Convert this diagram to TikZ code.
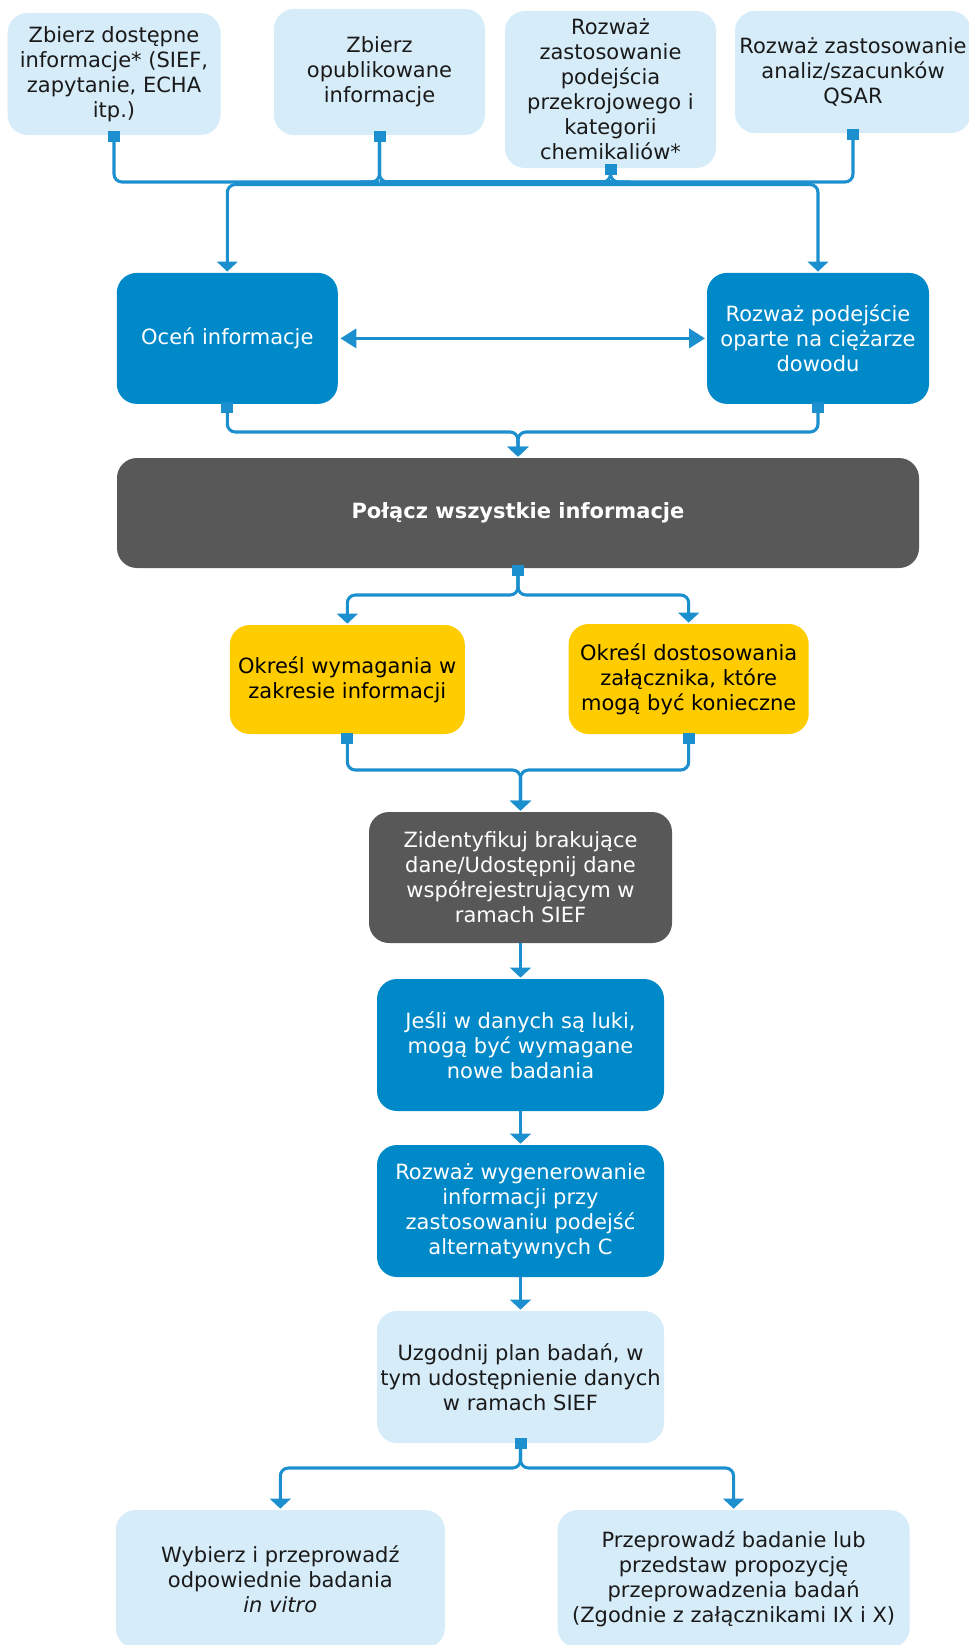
\documentclass[tikz,border=0pt]{standalone}
\usepackage{fontspec}
\setmainfont{DejaVu Sans}
\usetikzlibrary{arrows.meta,calc}
\definecolor{lightfill}{RGB}{214,236,249}
\definecolor{bluefill}{RGB}{0,137,201}
\definecolor{grayfill}{RGB}{88,88,88}
\definecolor{yellowfill}{RGB}{255,204,0}
\definecolor{connblue}{RGB}{28,144,207}
\definecolor{txtdark}{RGB}{26,26,26}
\begin{document}
\begin{tikzpicture}[x=0.75pt,y=-0.75pt,
  every node/.style={inner sep=0pt, outer sep=0pt, align=center},
  card/.style 2 args={rounded corners=15pt, minimum width=#1*0.75pt, minimum height=#2*0.75pt,
    font=\fontsize{15.75pt}{18.75pt}\selectfont},
  light/.style={fill=lightfill, text=txtdark},
  blue/.style={fill=bluefill, text=white},
  gray/.style={fill=grayfill, text=white},
  yellow/.style={fill=yellowfill, text=black},
  sq/.style={fill=connblue, minimum width=9pt, minimum height=8.25pt, anchor=north},
  conn/.style={draw=connblue, line width=2.3pt, rounded corners=6pt},
  flow/.style={conn, -{Triangle[width=15.5pt,length=7.5pt]}},
  flowboth/.style={conn, {Triangle[width=15.5pt,length=7.5pt]}-{Triangle[width=15.5pt,length=7.5pt]}},
  flowh/.style={conn, {Triangle[width=14.5pt,length=12pt]}-{Triangle[width=14.5pt,length=12pt]}}
]
\useasboundingbox (0,0) rectangle (969,1645);
\clip (0,0) rectangle (969,1645);

% top row
\node[card={213}{122}, light] (b1) at (114,74) {Zbierz dostępne\\informacje* (SIEF,\\zapytanie, ECHA\\itp.)};
\node[card={211}{126}, light] (b2) at (379.5,72) {Zbierz\\opublikowane\\informacje};
\node[card={211}{157}, light] (b3) at (610.5,89.5) {Rozważ\\zastosowanie\\podejścia\\przekrojowego i\\kategorii\\chemikaliów*};
\node[card={236}{122}, light] (b4) at (853,72) {Rozważ zastosowanie\\analiz/szacunków\\QSAR};

% evaluation row
\node[card={221}{131}, blue] (oc) at (227.3,338.4) {Oceń informacje};
\node[card={222}{131}, blue] (wd) at (818,338.4) {Rozważ podejście\\oparte na ciężarze\\dowodu};

% combine
\node[card={802}{110}, gray] (pol) at (518,513) {\textbf{Połącz wszystkie informacje}};

% yellow
\node[card={235}{109}, yellow] (y1) at (347.3,679.5) {Określ wymagania w\\zakresie informacji};
\node[card={240}{110}, yellow] (y2) at (688.7,679) {Określ dostosowania\\załącznika, które\\mogą być konieczne};

% chain
\node[card={303}{131}, gray] (zid) at (520.5,877.5) {Zidentyfikuj brakujące\\dane/Udostępnij dane\\współrejestrującym w\\ramach SIEF};
\node[card={287}{132}, blue] (jes) at (520.5,1045) {Jeśli w danych są luki,\\mogą być wymagane\\nowe badania};
\node[card={287}{132}, blue] (roz) at (520.5,1211) {Rozważ wygenerowanie\\informacji przy\\zastosowaniu podejść\\alternatywnych C};
\node[card={287}{132}, light] (uzg) at (520.5,1377) {Uzgodnij plan badań, w\\tym udostępnienie danych\\w ramach SIEF};

% bottom
\node[card={329}{138}, light] (wyb) at (280.3,1579) {Wybierz i przeprowadź\\odpowiednie badania\\\textit{in vitro}};
\node[card={352}{138}, light] (prz) at (733.6,1579) {Przeprowadź badanie lub\\przedstaw propozycję\\przeprowadzenia badań\\(Zgodnie z załącznikami IX i X)};

% small squares
\node[sq] (s1) at ($(b1.south)+(0,-4)$) {};
\node[sq] (s2) at ($(b2.south)+(0,-4)$) {};
\node[sq] (s3) at ($(b3.south)+(0,-4)$) {};
\node[sq] (s4) at ($(b4.south)+(0,-4)$) {};
\node[sq] (s5) at ($(oc.south)+(0,-2)$) {};
\node[sq] (s6) at ($(wd.south)+(0,-2)$) {};
\node[sq] (s7) at ($(pol.south)+(0,-3)$) {};
\node[sq] (s8) at ($(y1.south)+(0,-1)$) {};
\node[sq] (s9) at ($(y2.south)+(0,-1)$) {};
\node[sq] (s10) at ($(uzg.south)+(0,-5)$) {};

% top bundle
\coordinate (jt) at (0,182);
\coordinate (jd) at (0,184.5);
\draw[conn] (s1.south) |- (s2.south |- jt);
\draw[conn] (s2.south) |- ($(s2.south |- jt)+(-20,0)$);
\draw[conn] (s2.south) |- ($(s2.south |- jt)+(20,0)$);
\draw[conn] (s2.south |- jt) -- (s3.south |- jt);
\draw[conn] (s3.south) |- ($(s3.south |- jt)+(-20,0)$);
\draw[conn] (s3.south) |- ($(s3.south |- jt)+(20,0)$);
\draw[conn] (s4.south) |- (s3.south |- jt);
\draw[flowboth] ([yshift=1pt]oc.north) |- (wd.north |- jd) -- ([yshift=1pt]wd.north);

% horizontal double arrow
\draw[flowh] ([xshift=2pt]oc.east) -- ([xshift=-1.5pt]wd.west);

% to combine
\coordinate (j2) at (0,432);
\draw[flow] (s5.south) |- (pol.north |- j2) -- ([yshift=1pt]pol.north);
\draw[flow] (s6.south) |- (pol.north |- j2) -- ([yshift=1pt]pol.north);

% combine to yellow
\coordinate (j3) at (0,595);
\draw[flow] (s7.south) -- (s7.south |- j3) -| ([yshift=1pt]y1.north);
\draw[flow] (s7.south) -- (s7.south |- j3) -| ([yshift=1pt]y2.north);

% yellow to identify
\coordinate (j4) at (0,770);
\draw[flow] (s8.south) |- (zid.north |- j4) -- ([yshift=1pt]zid.north);
\draw[flow] (s9.south) |- (zid.north |- j4) -- ([yshift=1pt]zid.north);

% chain
\draw[flow] (zid.south) -- ([yshift=1pt]jes.north);
\draw[flow] (jes.south) -- ([yshift=1pt]roz.north);
\draw[flow] (roz.south) -- ([yshift=1pt]uzg.north);

% to bottom
\coordinate (j5) at (0,1468);
\draw[flow] (s10.south) -- (s10.south |- j5) -| ([yshift=1pt]wyb.north);
\draw[flow] (s10.south) -- (s10.south |- j5) -| ([yshift=1pt]prz.north);
\end{tikzpicture}
\end{document}
